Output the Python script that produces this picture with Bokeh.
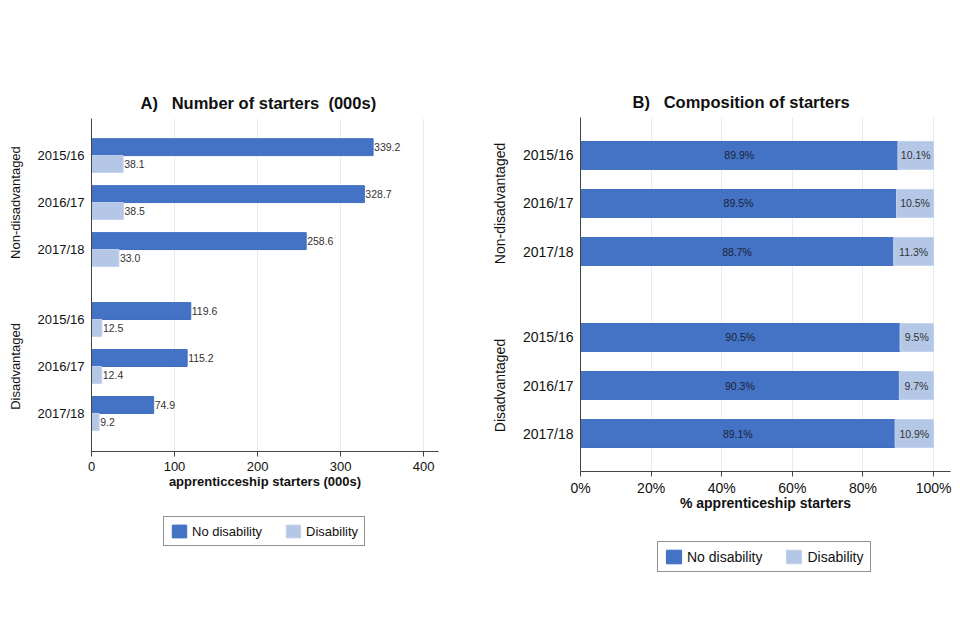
import math
from bokeh.plotting import figure
from bokeh.models import (ColumnDataSource, Range1d, FixedTicker, Legend, LinearAxis,
                          LegendItem, PrintfTickFormatter, LabelSet)
from bokeh.core.properties import value
from bokeh.layouts import row, column
from bokeh.embed import file_html
from bokeh.resources import INLINE

# ---------------- data ----------------
years = ["2015/16", "2016/17", "2017/18"]
groups = ["Non-disadvantaged", "Disadvantaged"]
series = ["No disability", "Disability"]

starters_no_dis_nd = [339.2, 328.7, 258.6]
starters_dis_nd = [38.1, 38.5, 33.0]
starters_no_dis_d = [119.6, 115.2, 74.9]
starters_dis_d = [12.5, 12.4, 9.2]

pct_no_dis_nd = [89.9, 89.5, 88.7]
pct_dis_nd = [10.1, 10.5, 11.3]
pct_no_dis_d = [90.5, 90.3, 89.1]
pct_dis_d = [9.5, 9.7, 10.9]

x_ticks_a = [0, 100, 200, 300, 400]
x_ticks_b = [0, 20, 40, 60, 80, 100]

DARK = "#4472C4"
LIGHT = "#B4C7E7"
FONT = "Liberation Sans"
GRID = "#E4ECF1"
NB = "\u00a0"


def positions(gap):
    return [0, 1, 2, 2 + gap, 3 + gap, 4 + gap]


def style(p, label_size, standoff_y, x_lab_standoff, axlab_standoff):
    p.outline_line_color = None
    p.ygrid.grid_line_color = None
    p.xgrid.grid_line_color = GRID
    for ax in (p.xaxis[0], p.yaxis[0]):
        ax.axis_line_color = "#444444"
        ax.major_label_text_font = FONT
        ax.major_label_text_font_size = label_size
        ax.major_label_text_color = "#111111"
        ax.minor_tick_line_color = None
        ax.axis_label_text_font = FONT
        ax.axis_label_text_font_style = "bold"
        ax.axis_label_text_color = "#111111"
        ax.axis_label_text_font_size = label_size
    p.yaxis.major_tick_line_color = None
    p.yaxis.major_label_standoff = standoff_y
    p.xaxis.major_tick_out = 5
    p.xaxis.major_tick_in = 0
    p.xaxis.major_tick_line_color = "#444444"
    p.xaxis.major_label_standoff = x_lab_standoff
    p.xaxis.axis_label_standoff = axlab_standoff
    p.title.text_font = FONT
    p.title.text_font_size = "16.5px"
    p.title.text_font_style = "bold"
    p.title.text_color = "#111111"
    p.title.align = "left"
    p.title.standoff = 13


def group_axis(p, pos, size, standoff):
    ax = LinearAxis(ticker=FixedTicker(ticks=[pos[1], pos[4]]),
                    major_label_overrides={pos[1]: groups[0], pos[4]: groups[1]})
    ax.major_label_orientation = "parallel"
    ax.axis_line_color = None
    ax.major_tick_line_color = None
    ax.minor_tick_line_color = None
    ax.major_label_standoff = standoff
    ax.major_label_text_font = FONT
    ax.major_label_text_font_size = size
    ax.major_label_text_color = "#111111"
    p.add_layout(ax, "left")


def legend_fig(width, height, loc, size, gw, gh, spacing):
    lf = figure(width=width, height=height, output_backend="svg", toolbar_location=None,
                x_range=Range1d(0, 1), y_range=Range1d(0, 1),
                x_axis_location=None, y_axis_location=None,
                min_border=0, outline_line_color=None)
    lf.grid.visible = False
    # legend-only swatches, placed outside the visible range
    swatch = ColumnDataSource(dict(y=[-5], left=[-5], right=[-4]))
    d = lf.hbar(y="y", left="left", right="right", height=0.5, source=swatch,
                fill_color=DARK, line_color="#3F6DC0")
    l = lf.hbar(y="y", left="left", right="right", height=0.5, source=swatch,
                fill_color=LIGHT, line_color="#C3D2EC")
    lg = Legend(items=[LegendItem(label=series[0], renderers=[d]),
                       LegendItem(label=series[1], renderers=[l])],
                orientation="horizontal", location=loc)
    lg.label_text_font = FONT
    lg.label_text_font_size = size
    lg.label_text_color = "#111111"
    lg.border_line_color = "#222222"
    lg.border_line_width = 1
    lg.glyph_width = gw
    lg.glyph_height = gh
    lg.label_height = gh
    lg.label_standoff = 4
    lg.spacing = spacing
    lg.padding = 6
    lg.margin = 0
    lf.add_layout(lg, "center")
    return lf


# ---------------- panel A ----------------
pos_a = positions(1.49)
half = 0.18
src_a = ColumnDataSource(dict(
    y_dark=[v - half for v in pos_a],
    y_light=[v + half for v in pos_a],
    dark=starters_no_dis_nd + starters_no_dis_d,
    light=starters_dis_nd + starters_dis_d,
    dark_lab=["%.1f" % v for v in starters_no_dis_nd + starters_no_dis_d],
    light_lab=["%.1f" % v for v in starters_dis_nd + starters_dis_d],
))

pa = figure(width=480, height=500, output_backend="svg", toolbar_location=None,
            x_range=Range1d(0, 418), y_range=Range1d(pos_a[-1] + 0.81, -0.79),
            min_border_left=91, min_border_right=42, min_border_top=118,
            min_border_bottom=49,
            title="A)" + NB * 3 + "Number of starters" + NB * 2 + "(000s)")
r1 = pa.hbar(y="y_dark", right="dark", left=0, height=0.36, source=src_a,
             fill_color=DARK, line_color="#3F6DC0", line_width=1)
r2 = pa.hbar(y="y_light", right="light", left=0, height=0.36, source=src_a,
             fill_color=LIGHT, line_color="#C3D2EC", line_width=1)
for xcol, ycol, tcol in (("dark", "y_dark", "dark_lab"), ("light", "y_light", "light_lab")):
    pa.add_layout(LabelSet(x=xcol, y=ycol, text=tcol, source=src_a,
                           x_offset=1, text_align="left", text_baseline="middle",
                           text_font_size="10.5px", text_font=value(FONT),
                           text_color="#333333"))
pa.xaxis.ticker = FixedTicker(ticks=x_ticks_a)
pa.yaxis.ticker = FixedTicker(ticks=pos_a)
pa.yaxis.major_label_overrides = {p_: years[i % 3] for i, p_ in enumerate(pos_a)}
pa.xaxis.axis_label = "apprenticceship starters (000s)"
style(pa, "13px", 1, 5, 0)
pa.title.offset = 49
group_axis(pa, pos_a, "13px", 5)
la = legend_fig(480, 140, (72, 94), "13px", 18, 16, 22)

# ---------------- panel B ----------------
pos_b = positions(1.79)
dark_b = pct_no_dis_nd + pct_no_dis_d
light_b = pct_dis_nd + pct_dis_d
src_b = ColumnDataSource(dict(
    y=pos_b,
    dark=dark_b,
    total=[d + l for d, l in zip(dark_b, light_b)],
    dark_mid=[d / 2 for d in dark_b],
    light_mid=[d + l / 2 for d, l in zip(dark_b, light_b)],
    dark_lab=["%.1f%%" % v for v in dark_b],
    light_lab=["%.1f%%" % v for v in light_b],
))

pb = figure(width=480, height=520, output_backend="svg", toolbar_location=None,
            x_range=Range1d(0, 104.8), y_range=Range1d(pos_b[-1] + 0.79, -0.79),
            min_border_left=100, min_border_right=10, min_border_top=117,
            min_border_bottom=49,
            title="B)" + NB * 3 + "Composition of starters")
s1 = pb.hbar(y="y", left=0, right="dark", height=0.58, source=src_b,
             fill_color=DARK, line_color="#3F6DC0", line_width=1)
s2 = pb.hbar(y="y", left="dark", right="total", height=0.58, source=src_b,
             fill_color=LIGHT, line_color="#C3D2EC", line_width=1)
pb.add_layout(LabelSet(x="dark_mid", y="y", text="dark_lab", source=src_b,
                       text_align="center", text_baseline="middle",
                       text_font_size="10.5px", text_font=value(FONT),
                       text_color="#1A2238"))
pb.add_layout(LabelSet(x="light_mid", y="y", text="light_lab", source=src_b,
                       text_align="center", text_baseline="middle",
                       text_font_size="10.5px", text_font=value(FONT),
                       text_color="#333333"))
pb.xaxis.ticker = FixedTicker(ticks=x_ticks_b)
pb.xaxis.formatter = PrintfTickFormatter(format="%d%%")
pb.yaxis.ticker = FixedTicker(ticks=pos_b)
pb.yaxis.major_label_overrides = {p_: years[i % 3] for i, p_ in enumerate(pos_b)}
pb.xaxis.axis_label = "% apprenticeship starters"
style(pb, "14px", 1, 3, -4)
pb.title.offset = 52
group_axis(pb, pos_b, "14px", 5)
lb = legend_fig(480, 120, (77, 68), "14px", 19, 17, 22)

layout = row(column(pa, la), column(pb, lb))
open("out.html", "w").write(file_html(layout, INLINE))
